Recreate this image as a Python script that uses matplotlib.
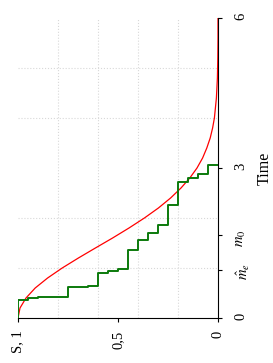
import matplotlib
matplotlib.use("Agg")
import matplotlib.pyplot as plt
from matplotlib.ticker import MultipleLocator

# Kaplan-Meier estimate: drop times and survival after each drop
km_times = [0.37, 0.40, 0.43, 0.62, 0.65, 0.91, 0.94, 0.99, 1.37, 1.57,
            1.71, 1.87, 2.27, 2.73, 2.81, 2.89, 3.07]
km_surv = [0.95, 0.90, 0.75, 0.65, 0.60, 0.55, 0.50, 0.45, 0.40, 0.35,
           0.30, 0.25, 0.20, 0.15, 0.10, 0.05, 0.0]

# true survival curve
true_t = [0, 0.2, 0.4, 0.6, 0.8, 1.0, 1.2, 1.4, 1.6, 1.8, 2.0, 2.2, 2.4,
          2.6, 2.8, 3.0, 3.2, 3.4, 3.6, 3.8, 4.0, 4.4, 4.8, 5.2, 5.6, 6.0]
true_s = [1.0, 0.99, 0.96, 0.914, 0.852, 0.779, 0.698, 0.613, 0.527, 0.445,
          0.368, 0.298, 0.237, 0.185, 0.141, 0.105, 0.077, 0.056, 0.039,
          0.027, 0.018, 0.008, 0.003, 0.001, 0.0, 0.0]

time_ticks = [0, 0.96, 1.67, 3, 6]
time_labels = ["0", r"$\hat{m}_e$", r"$m_0$", "3", "6"]
surv_ticks = [1, 0.5, 0]
surv_labels = ["S, 1", "0,5", "0"]

plt.rcParams["font.family"] = ["Liberation Serif", "DejaVu Serif"]
plt.rcParams["mathtext.fontset"] = "stix"
plt.rcParams["font.size"] = 10.5

fig = plt.figure(figsize=(2.73, 3.63), dpi=100)
ax = fig.add_axes([18 / 273, 45 / 363, 200 / 273, 300 / 363])

# picture is turned a quarter turn: survival runs along x, time up y
xs, ys = [1.0], [0.0]
prev = 1.0
for t, s in zip(km_times, km_surv):
    xs += [prev, s]
    ys += [t, t]
    prev = s

ax.plot(true_s, true_t, color="red", lw=0.9, zorder=3)
ax.plot(xs, ys, color="#0b7a0b", lw=1.4, zorder=4)

ax.set_xlim(1, 0)
ax.set_ylim(0, 6)

ax.spines["top"].set_visible(False)
ax.spines["left"].set_visible(False)
ax.yaxis.tick_right()
ax.yaxis.set_label_position("right")

ax.set_xticks(surv_ticks)
ax.set_xticklabels(surv_labels, rotation=90)
ax.set_yticks(time_ticks)
ax.set_yticklabels(time_labels, rotation=90)
ax.set_ylabel("Time", rotation=90, fontsize=11.5, labelpad=3)

ax.xaxis.set_minor_locator(MultipleLocator(0.2))
ax.yaxis.set_minor_locator(MultipleLocator(1))
ax.tick_params(which="major", direction="out", length=3, width=0.8, pad=6)
ax.tick_params(axis="y", which="major", pad=9)
ax.tick_params(which="minor", length=0)
ax.grid(which="minor", color="#d8d8d8", ls=":", lw=0.8)

fig.savefig("out.png", dpi=100)
